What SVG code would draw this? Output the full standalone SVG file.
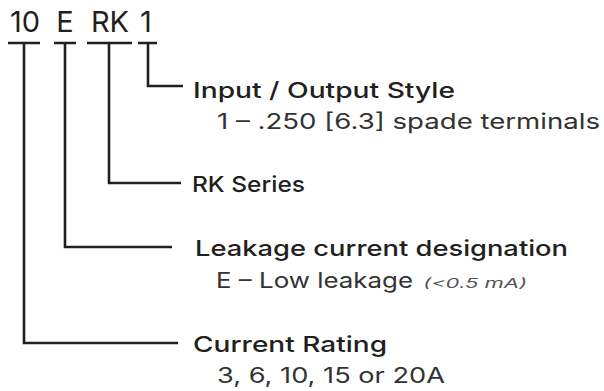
<svg xmlns="http://www.w3.org/2000/svg" width="604" height="391" viewBox="0 0 604 391">
<style>
.ln{stroke:#231f20;stroke-width:2.6;fill:none}
.code{font-family:Inter,"Liberation Sans",Arial,sans-serif;font-weight:400;font-size:29px;fill:#231f20;text-anchor:middle}
.ttl{font-family:Inter,"Liberation Sans",sans-serif;font-weight:500;font-size:22px;fill:#231f20}
.sub{font-family:Inter,"Liberation Sans",sans-serif;font-weight:400;font-size:21.5px;fill:#333333}
.note{font-family:Inter,"Liberation Sans",sans-serif;font-style:italic;font-size:13px;fill:#555555}
</style>
<rect width="604" height="391" fill="#ffffff"/>
<g id="code">
<text class="code" x="25" y="32">10</text>
<text class="code" x="65" y="32">E</text>
<text class="code" x="110" y="32">RK</text>
<text class="code" x="146" y="32">1</text>
</g>
<g id="connectors">
<path class="ln" d="M8 43H40M54 43H76M87 43H132M138 43H157"/>
<path class="ln" d="M148 43V86H183"/>
<path class="ln" d="M109 43V183H181"/>
<path class="ln" d="M65 43V247H172"/>
<path class="ln" d="M24 43V343H178"/>
</g>
<g id="io-style">
<text class="ttl" x="193" y="98" textLength="262" lengthAdjust="spacingAndGlyphs">Input / Output Style</text>
<text class="sub" x="217" y="129" textLength="383" lengthAdjust="spacingAndGlyphs">1 – .250 [6.3] spade terminals</text>
</g>
<g id="rk-series">
<text class="ttl" x="192" y="192" textLength="113" lengthAdjust="spacingAndGlyphs">RK Series</text>
</g>
<g id="leakage">
<text class="ttl" x="195" y="256" textLength="373" lengthAdjust="spacingAndGlyphs">Leakage current designation</text>
<text class="sub" x="216" y="288" textLength="197" lengthAdjust="spacingAndGlyphs">E – Low leakage</text>
<text class="note" x="423" y="288" textLength="104" lengthAdjust="spacingAndGlyphs">(&lt;0.5 mA)</text>
</g>
<g id="current-rating">
<text class="ttl" x="193" y="352" textLength="194" lengthAdjust="spacingAndGlyphs">Current Rating</text>
<text class="sub" x="217" y="383" textLength="228" lengthAdjust="spacingAndGlyphs">3, 6, 10, 15 or 20A</text>
</g>
</svg>
